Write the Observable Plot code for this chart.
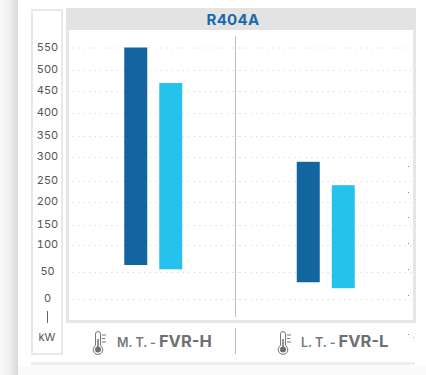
<!DOCTYPE html>
<html><head><meta charset="utf-8">
<script src="https://cdn.jsdelivr.net/npm/d3@7"></script>
<script src="https://cdn.jsdelivr.net/npm/@observablehq/plot@0.6"></script>
<style>
html,body{margin:0;padding:0;width:426px;height:375px;overflow:hidden;background:#fff;font-family:Inter,"Open Sans",sans-serif}
#page{position:relative;width:426px;height:375px}
.c{position:absolute;box-sizing:border-box}
#chart{position:absolute;left:0;top:0}
#chart svg{background:transparent!important;display:block}
.title{left:66px;top:8px;width:350px;height:22px;background:#e3e3e3;color:#1a6aa8;font:700 15px/24px Inter,sans-serif;text-align:center;letter-spacing:.3px;padding-right:16px}
.cat{top:332px;height:18px;line-height:18px;white-space:nowrap;color:#75797c;font-size:12.5px;font-weight:600}
.cat b{font-size:16.5px;font-weight:700;color:#6d7175;margin-left:3px}
</style></head><body>
<div id="page">
<div class="c" style="left:0;top:0;width:18px;height:375px;background:linear-gradient(90deg,#fafafa,#f0f0f0 50%,#d8d8d8)"></div>
<div class="c" style="left:18px;top:366px;width:408px;height:9px;background:#fafafa"></div>
<div class="c" style="left:31px;top:9px;width:32px;height:346px;border:2px solid #e8e8e8"></div>
<div class="c" style="left:66px;top:8px;width:350px;height:315px;border:3px solid #e6e6e6;border-top:0"></div>
<div class="c title">R404A</div>
<div class="c" style="left:31px;top:362px;width:381px;height:3px;background:#eeeeee"></div>
<div class="c" style="left:235px;top:36px;width:1px;height:281px;background:#bdbdbd"></div>
<div class="c" style="left:235px;top:328px;width:1px;height:26px;background:#bdbdbd"></div>
<div class="c" style="left:46.5px;top:311px;width:1px;height:12px;background:#666"></div>
<div class="c" style="left:32px;top:330px;width:30px;text-align:center;font-size:11px;color:#555">kW</div>
<div id="chart"></div>
<div class="c" style="left:408px;top:166px;width:1px;height:1px;background:#888;box-shadow:0 26px #888,0 51px #888,0 77px #888,0 103px #888,0 129px #888,0 168px #888,5px 171px #aaa,5px 197px #aaa"></div>
<div class="c cat" id="cat0" style="left:117px"></div>
<div class="c cat" id="cat1" style="left:301px"></div>
<svg class="c" style="left:92px;top:331px" width="16" height="24" viewBox="0 0 16 24"><g fill="none" stroke="#777" stroke-width="1"><path d="M3.5 3a2.5 2.5 0 0 1 5 0v11.5a4.8 4.8 0 1 1-5 0z"/><path d="M10 4h4M10 7.5h3M10 11h4"/></g><circle cx="6" cy="18.5" r="3" fill="#6d6d6d"/><path d="M6 8v9" stroke="#777" stroke-width="1.6"/></svg>
<svg class="c" style="left:277px;top:331px" width="16" height="24" viewBox="0 0 16 24"><g fill="none" stroke="#777" stroke-width="1"><path d="M3.5 3a2.5 2.5 0 0 1 5 0v11.5a4.8 4.8 0 1 1-5 0z"/><path d="M10 4h4M10 7.5h3M10 11h4"/></g><circle cx="6" cy="18.5" r="3" fill="#6d6d6d"/><path d="M6 8v9" stroke="#777" stroke-width="1.6"/></svg>
</div>
<script>
const categories = ["M. T.", "L. T."];
const models = ["FVR-H", "FVR-L"];
const series = ["a", "b"];
const lowA = [63, 31];
const highA = [550, 290];
const lowB = [55, 20];
const highB = [469, 240];
const yTicks = [0, 50, 100, 150, 200, 250, 300, 350, 400, 450, 500, 550];
const yPixels = [299, 272, 245, 225, 202, 181, 157, 136, 113, 91, 70, 47.5];
const warp = d3.scaleLinear().domain(yTicks).range(yPixels);
const bars = categories.flatMap((c, i) => [
  {c, s: series[0], lo: lowA[i], hi: highA[i]},
  {c, s: series[1], lo: lowB[i], hi: highB[i]}
]);
categories.forEach((c, i) => {
  const el = document.getElementById("cat" + i);
  el.append(c + " -");
  const b = document.createElement("b");
  b.textContent = models[i];
  el.append(b);
});
const chart = Plot.plot({
  width: 426, height: 375,
  marginLeft: 67, marginRight: 14, marginTop: 0, marginBottom: 0,
  style: {background: "transparent", fontFamily: "Inter, sans-serif"},
  fx: {domain: categories, padding: 0, axis: null, round: false},
  x: {domain: series, paddingInner: 0.343, paddingOuter: 1.636, axis: null, round: false},
  y: {domain: [299, 47.5], range: [299, 47.5], transform: warp, axis: null},
  color: {domain: series, range: ["#12659f", "#26c2ee"]},
  marks: [
    Plot.gridY(yTicks, {y: d => d, stroke: "#dedede", strokeOpacity: 1, strokeDasharray: "1.5,4"}),
    Plot.axisY(yTicks, {anchor: "left", tickSize: 0, tickPadding: 0, dx: -20, dy: -1, textAnchor: "middle", fontSize: 11, fill: "#555", label: null}),
    Plot.barY(bars, {fx: "c", x: "s", y1: "lo", y2: "hi", fill: "s", stroke: "#fff", strokeWidth: 1.5, paintOrder: "stroke"})
  ]
});
document.getElementById("chart").append(chart);
</script>
</body></html>
